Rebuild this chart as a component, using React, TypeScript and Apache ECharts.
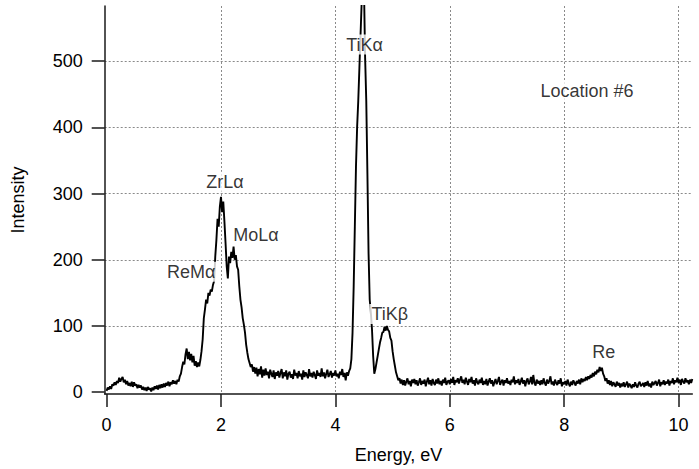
import React, { useEffect, useRef } from "react";
import * as echarts from "echarts";

// Spectrum: counts per 0.02 eV channel, starting at 0 eV
const START_ENERGY = 0;
const CHANNEL_WIDTH = 0.02;
const intensity = [
  2, 7, 4, 9, 5, 12, 10, 15, 11, 17,
  14, 22, 16, 20, 23, 15, 19, 12, 17, 10,
  14, 9, 16, 8, 15, 10, 12, 6, 11, 7,
  10, 4, 8, 3, 7, 2, 8, 4, 6, 1,
  7, 3, 9, 5, 10, 4, 11, 6, 12, 7,
  13, 8, 14, 10, 16, 9, 15, 12, 18, 13,
  17, 12, 19, 16, 24, 28, 38, 46, 42, 57,
  66, 50, 61, 48, 58, 45, 55, 40, 47, 38,
  45, 39, 49, 62, 80, 112, 125, 140, 134, 150,
  146, 155, 152, 162, 168, 205, 230, 262, 250, 280,
  295, 272, 288, 258, 225, 190, 172, 205, 195, 212,
  203, 220, 200, 207, 190, 185, 160, 140, 128, 112,
  102, 90, 72, 60, 50, 44, 38, 42, 31, 38,
  28, 37, 24, 35, 27, 39, 22, 34, 25, 36,
  26, 31, 21, 34, 28, 23, 33, 20, 30, 25,
  32, 22, 29, 35, 21, 30, 24, 33, 19, 28,
  31, 22, 27, 20, 34, 25, 29, 21, 32, 24,
  28, 19, 33, 23, 30, 26, 21, 35, 24, 29,
  22, 31, 26, 20, 33, 25, 29, 23, 36, 24,
  30, 21, 28, 34, 23, 27, 32, 22, 29, 25,
  33, 24, 28, 21, 31, 26, 35, 23, 29, 18,
  30, 25, 32, 36, 50, 90, 160, 250, 340, 400,
  440, 490, 540, 590, 625, 610, 505, 440, 330, 210,
  140, 120, 95, 55, 28, 35, 45, 55, 65, 75,
  82, 90, 91, 99, 93, 100, 94, 92, 82, 78,
  62, 50, 40, 30, 24, 18, 21, 13, 19, 11,
  18, 10, 16, 21, 12, 17, 9, 19, 14, 20,
  12, 18, 10, 15, 21, 11, 17, 13, 19, 9,
  16, 22, 12, 18, 10, 20, 14, 11, 19, 13,
  21, 12, 17, 10, 19, 14, 22, 11, 16, 18,
  12, 20, 14, 23, 11, 18, 15, 21, 13, 19,
  24, 14, 19, 12, 22, 16, 11, 20, 15, 23,
  13, 18, 10, 21, 15, 12, 19, 14, 22, 11,
  17, 12, 20, 10, 16, 21, 13, 18, 9, 15,
  20, 12, 17, 23, 11, 16, 19, 10, 18, 14,
  21, 13, 17, 11, 19, 15, 24, 12, 18, 14,
  20, 11, 16, 22, 13, 18, 9, 17, 21, 12,
  16, 23, 12, 26, 14, 10, 19, 13, 17, 11,
  18, 12, 21, 14, 10, 19, 13, 17, 24, 12,
  16, 10, 19, 14, 11, 18, 13, 21, 9, 15,
  12, 17, 10, 19, 13, 9, 16, 11, 18, 14,
  10, 17, 13, 19, 12, 21, 15, 20, 17, 23,
  18, 24, 20, 26, 22, 29, 24, 31, 27, 34,
  30, 38, 32, 37, 28, 24, 17, 21, 13, 18,
  11, 17, 9, 15, 12, 8, 16, 10, 14, 7,
  13, 9, 15, 8, 12, 16, 7, 13, 10, 6,
  12, 8, 15, 10, 7, 13, 16, 9, 11, 14,
  8, 15, 10, 17, 9, 13, 7, 16, 11, 14,
  17, 10, 14, 19, 9, 15, 12, 18, 11, 16,
  13, 19, 10, 17, 14, 21, 12, 18, 15, 22,
  14, 19, 11, 20, 16, 13, 21, 15, 18, 12,
  19, 14, 20,
];

const xTicks = [0, 2, 4, 6, 8, 10];
const yTicks = [0, 100, 200, 300, 400, 500];

const annotationText = ["ReMα", "ZrLα", "MoLα", "TiKα", "TiKβ", "Re", "Location #6"];
const annotationEnergy = [1.48, 2.07, 2.61, 4.51, 4.95, 8.69, 8.4];
const annotationIntensity = [182, 318, 238, 525, 118, 61, 455];

const FONT = '"Liberation Sans", Arial, Helvetica, sans-serif';

export default function App() {
  const ref = useRef<HTMLDivElement>(null);

  useEffect(() => {
    const chart = echarts.init(ref.current!, null, { renderer: "svg" });
    const spectrum = intensity.map((v, i) => [
      +(START_ENERGY + i * CHANNEL_WIDTH).toFixed(2),
      v,
    ]);
    const annotations = annotationText.map((t, i) => [
      annotationEnergy[i],
      annotationIntensity[i],
      t,
    ]);
    const gridColors = ["rgba(0,0,0,0)", "#8a8a8a", "#8a8a8a", "#8a8a8a", "#8a8a8a", "#8a8a8a"];

    chart.setOption({
      animation: false,
      backgroundColor: "#ffffff",
      grid: { left: 104.7, right: 6.7, top: 6, bottom: 74.5, containLabel: false },
      xAxis: {
        type: "value",
        min: -0.033,
        max: 10.24,
        name: "Energy, eV",
        nameLocation: "middle",
        nameGap: 52,
        nameTextStyle: { fontFamily: FONT, fontSize: 18, color: "#000" },
        axisLine: { show: true, onZero: false, lineStyle: { color: "#1a1a1a", width: 1.5 } },
        axisTick: {
          show: true,
          inside: false,
          length: 13,
          customValues: xTicks,
          lineStyle: { color: "#1a1a1a", width: 1.5 },
        },
        axisLabel: {
          show: true,
          customValues: xTicks,
          margin: 22,
          fontFamily: FONT,
          fontSize: 18,
          color: "#000",
        },
        splitLine: {
          show: true,
          lineStyle: { type: [2, 2], width: 1, color: gridColors },
        },
      },
      yAxis: {
        type: "value",
        min: -2.7,
        max: 583.3,
        name: "Intensity",
        nameLocation: "middle",
        nameGap: 78,
        nameTextStyle: { fontFamily: FONT, fontSize: 18, color: "#000" },
        axisLine: { show: true, onZero: false, lineStyle: { color: "#1a1a1a", width: 1.5 } },
        axisTick: {
          show: true,
          inside: false,
          length: 13,
          customValues: yTicks,
          lineStyle: { color: "#1a1a1a", width: 1.5 },
        },
        axisLabel: {
          show: true,
          customValues: yTicks,
          margin: 22,
          fontFamily: FONT,
          fontSize: 18,
          color: "#000",
        },
        splitLine: {
          show: true,
          lineStyle: { type: [2, 2], width: 1, color: gridColors },
        },
      },
      series: [
        {
          type: "line",
          data: spectrum,
          symbol: "none",
          showSymbol: false,
          silent: true,
          clip: true,
          lineStyle: { color: "#000", width: 1.9 },
          z: 2,
        },
        {
          type: "scatter",
          data: annotations,
          symbolSize: 1,
          silent: true,
          itemStyle: { color: "rgba(0,0,0,0)" },
          label: {
            show: true,
            position: "inside",
            formatter: (p: any) => p.data[2],
            fontFamily: FONT,
            fontSize: 18,
            color: "#000",
            backgroundColor: "#ffffff",
            padding: [1, 2],
          },
          z: 5,
        },
      ],
    });
    return () => chart.dispose();
  }, []);

  return (
    <div
      ref={ref}
      style={{ position: "fixed", left: 0, top: 0, width: 699, height: 469 }}
    />
  );
}
